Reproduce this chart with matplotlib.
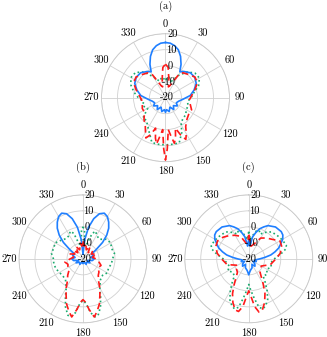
import numpy as np
import matplotlib
matplotlib.use('Agg')
from matplotlib import pyplot as plt
from matplotlib.transforms import offset_copy

plt.rcParams['font.family'] = ['cmr10', 'DejaVu Serif']
plt.rcParams['axes.unicode_minus'] = False

# angles in degrees (clockwise from top), values in dB
# ---- (a)
a_blue_t = [0, 5, 10, 15, 20, 25, 29, 35, 45, 55, 65, 75, 85, 95, 105, 115, 125, 135, 145, 155, 165, 175, 180,
            185, 195, 205, 215, 225, 235, 245, 255, 265, 275, 285, 295, 305, 315, 325, 331, 335, 340, 345, 350, 355, 360]
a_blue_r = [14.5, 14.2, 13, 11, 7.5, 3, -1.5, 0, 2, 2.3, 1.2, -1.5, -4.5, -9, -11.5, -12.5, -11, -13, -11, -13.5, -11, -12.5, -10.8,
            -12.5, -11, -13.5, -11, -13, -11, -12.5, -11.5, -9, -4.5, -1.5, 1.2, 2.3, 2, 0, -1.5, 3, 7.5, 11, 13, 14.2, 14.5]

a_green_t = [0, 10, 20, 30, 40, 50, 60, 70, 80, 90, 100, 110, 120, 130, 140, 148, 155, 163, 170, 180,
             190, 197, 205, 212, 220, 228, 239, 250, 260, 270, 280, 290, 300, 310, 320, 330, 340, 350, 360]
a_green_r = [-9, -7, -9, -4, 1, 4, 4.5, 2, -2, -4, -6, -5, -5, -3.5, -3, -1.5, 4, 9.4, 9.5, 9.5,
             9.5, 9.2, 4, 1, -1.5, -1, -7, -5, -6, -3, 0, 3, 5, 4.5, 1, -5, -9, -7, -9]

a_red_t = [0, 5, 10, 15, 20, 25, 30, 35, 45, 55, 65, 75, 85, 95, 105, 115, 123, 135, 145, 150, 154, 158, 162,
           166, 169, 172, 175, 178, 180, 182, 185, 188, 191, 194, 198, 202, 206, 210, 215, 225, 235, 245,
           255, 265, 275, 285, 295, 305, 315, 325, 330, 335, 340, 345, 350, 355, 360]
a_red_r = [1, -1, -8, -13, -12, -9, -3, -1, 0.5, 2.5, 2, -1, -3.5, -5, -4, -2, -2.4, -1, 2, 6, 9, 5, 0,
           6, 9, 4, 0, 12, 19, 12, 0, 4, 9.5, 6, 0, 5, 8, 5, 2, -1, -4, -4,
           -5, -5, -3.5, -1, 2, 2.5, 0.5, -1, -3, -9, -12, -13, -8, -1, 1]

# ---- (b)
b_blue_t = [0, 5, 10, 15, 20, 25, 30, 35, 40, 45, 50, 55, 60, 70, 80, 90, 100, 110, 120, 135, 150, 165, 180,
            195, 210, 225, 240, 250, 260, 270, 280, 290, 300, 305, 310, 315, 320, 325, 330, 335, 340, 345, 350, 355, 360]
b_blue_r = [-17, -8, 0, 6, 10, 11.5, 10.5, 8, 5, 1, -4, -10, -14, -13, -15, -13, -14, -17, -15, -17, -16, -18, -17,
            -18, -16, -17, -15, -17, -14, -13, -15, -13, -14, -10, -4, 1, 5, 8, 10.5, 11.5, 10, 6, 0, -8, -17]

b_green_t = [0, 3, 8, 15, 20, 25, 30, 40, 50, 60, 70, 80, 90, 100, 110, 120, 130, 140, 150, 155, 160, 165, 168,
             172, 176, 180, 184, 188, 192, 195, 200, 205, 210, 220, 230, 240, 250, 260, 270, 280, 290, 300,
             310, 320, 330, 335, 340, 345, 352, 357, 360]
b_green_r = [0, -2, -12, -10, -3, -1, -3, -4, -1, 0, -1, 0, -1.5, -2, -3, -2.5, -4, -3, 1, 6, 12, 16.5, 17,
             14, 8, 6, 8, 14, 17, 16.5, 12, 6, 1, -3, -3.5, -3, -2, -1.5, -1.5, 0, -0.5, 0,
             -2, -3.5, -3, -1, -3, -10, -12, -2, 0]

b_red_t = [0, 5, 10, 20, 30, 40, 50, 60, 70, 80, 90, 100, 110, 120, 130, 137, 145, 150, 155, 160, 165, 169,
           173, 177, 180, 183, 187, 191, 195, 200, 205, 210, 215, 223, 230, 240, 250, 260, 270, 280, 290,
           300, 310, 320, 330, 340, 350, 355, 360]
b_red_r = [-9, -12, -10, -14, -11, -15, -12, -14, -11, -14, -12, -10, -8, -9, -7, -6, -3, 1, 5, 10, 14, 17,
           12, 7, 5.5, 7, 12, 17, 14, 10, 5, 1, -3, -6, -8.5, -9, -10, -8.5, -12, -14, -11,
           -14, -12, -15, -11, -14, -10, -12, -9]

# ---- (c)
c_blue_t = [0, 5, 10, 15, 20, 25, 30, 40, 50, 55, 60, 65, 70, 75, 80, 85, 90, 100, 110, 120, 130, 140, 150,
            160, 170, 175, 180, 185, 190, 200, 210, 220, 230, 240, 250, 260, 270, 275, 280, 285, 290, 295,
            300, 305, 310, 320, 330, 335, 340, 345, 350, 355, 360]
c_blue_r = [-8, -12, -6, -3, 0, 2, 4, 6, 6.5, 6, 4.5, 2, 0, -3, -6, -10, -13, -16, -15, -17, -15, -14, -16,
            -14, -13, -12, -10, -12, -13, -14, -16, -14, -15, -17, -15, -16, -13, -10, -6, -3, 0, 2,
            4.5, 6, 6.5, 6, 4, 2, 0, -3, -6, -12, -8]

c_green_t = [0, 5, 10, 15, 20, 25, 30, 40, 50, 60, 70, 75, 80, 90, 100, 110, 120, 130, 140, 145, 150, 155,
             160, 164, 168, 172, 176, 180, 184, 188, 192, 196, 200, 205, 210, 215, 220, 230, 240, 250, 260,
             270, 280, 285, 290, 300, 310, 320, 330, 335, 340, 345, 350, 355, 360]
c_green_r = [-3, -8, -5, -2, -1, -3, -1, 2, 3, 4, 5, 4, 1, -4, -6, -5, -7, -5, -6, -2, 3, 8,
             11, 12.5, 11, 5, 0, -4, 0, 5, 11, 12.5, 11, 8, 3, -2, -6, -7, -5, -7, -6,
             -4, 1, 4, 5, 4, 3, 2, -1, -3, -1, -2, -5, -8, -3]

c_red_t = [0, 5, 10, 20, 30, 40, 50, 60, 70, 80, 90, 105, 120, 130, 140, 150, 155, 160, 165, 169, 173, 177,
           180, 183, 187, 191, 195, 200, 205, 210, 220, 230, 240, 255, 270, 280, 290, 300, 310, 320, 330,
           340, 350, 355, 360]
c_red_r = [-5, -10, -12, -10, -5, -3, -1, 2.5, 2, 0, -3, -6, -11, -10, -9, -2, 4, 9, 13, 14, 10, 3,
           0, 3, 10, 13.5, 13, 9, 4, -2, -9, -10, -12, -6, -3, 0, 2, 2.5, 1, -1, -3,
           -5, -10, -10, -5]

theta_ticks = [0, 30, 60, 90, 120, 150, 180, 210, 240, 270, 300, 330]
r_ticks = [-20, -10, 0, 10, 20]
r_labels = ['-20', '-10', '0', '10', '20']

panels = [
    ('(a)', [0.3104, 0.5202, 0.3914, 0.3798], a_blue_t, a_blue_r, a_green_t, a_green_r, a_red_t, a_red_r),
    ('(b)', [0.0581, 0.0420, 0.3914, 0.3798], b_blue_t, b_blue_r, b_green_t, b_green_r, b_red_t, b_red_r),
    ('(c)', [0.5650, 0.0420, 0.3914, 0.3798], c_blue_t, c_blue_r, c_green_t, c_green_r, c_red_t, c_red_r),
]

fig = plt.figure(figsize=(3.27, 3.37), dpi=100)
fs = 7.5

for title, rect, bt, br, gt, gr, rt, rr in panels:
    ax = fig.add_axes(rect, projection='polar')
    ax.set_theta_zero_location('N')
    ax.set_theta_direction(-1)
    ax.plot(np.deg2rad(bt), br, color='#1f7fff', lw=1.2, ls='-', zorder=3)
    ax.plot(np.deg2rad(gt), gr, color='#1aaa6e', lw=1.2, ls=':', zorder=2)
    ax.plot(np.deg2rad(rt), rr, color='#ff1a1a', lw=1.2, ls=(0, (4, 2.5)), zorder=4)
    ax.set_ylim(-20, 20)
    ax.set_yticks(r_ticks)
    ax.set_yticklabels([])
    ax.set_xticks(np.deg2rad(theta_ticks))
    ax.set_xticklabels([])
    ax.tick_params(length=0)
    ax.grid(color='#d0d0d0', lw=0.6)
    ax.spines['polar'].set_color('#c8c8c8')
    ax.spines['polar'].set_linewidth(0.6)

    # angle labels just outside the circle
    for a in theta_ticks:
        ax.text(np.deg2rad(a), 26.2, str(a), ha='center', va='center', fontsize=fs, clip_on=False)
    # radial labels along the 0 direction
    tr = offset_copy(ax.transData, fig=fig, x=1.5, y=0, units='dots')
    for r, lab in zip(r_ticks, r_labels):
        ax.text(np.deg2rad(5), r, lab, ha='center', va='center', fontsize=fs, transform=tr, zorder=5)

    ax.text(0.5, 1.215, title, ha='center', va='center', fontsize=fs, transform=ax.transAxes)

fig.savefig('out.png', dpi=100)
